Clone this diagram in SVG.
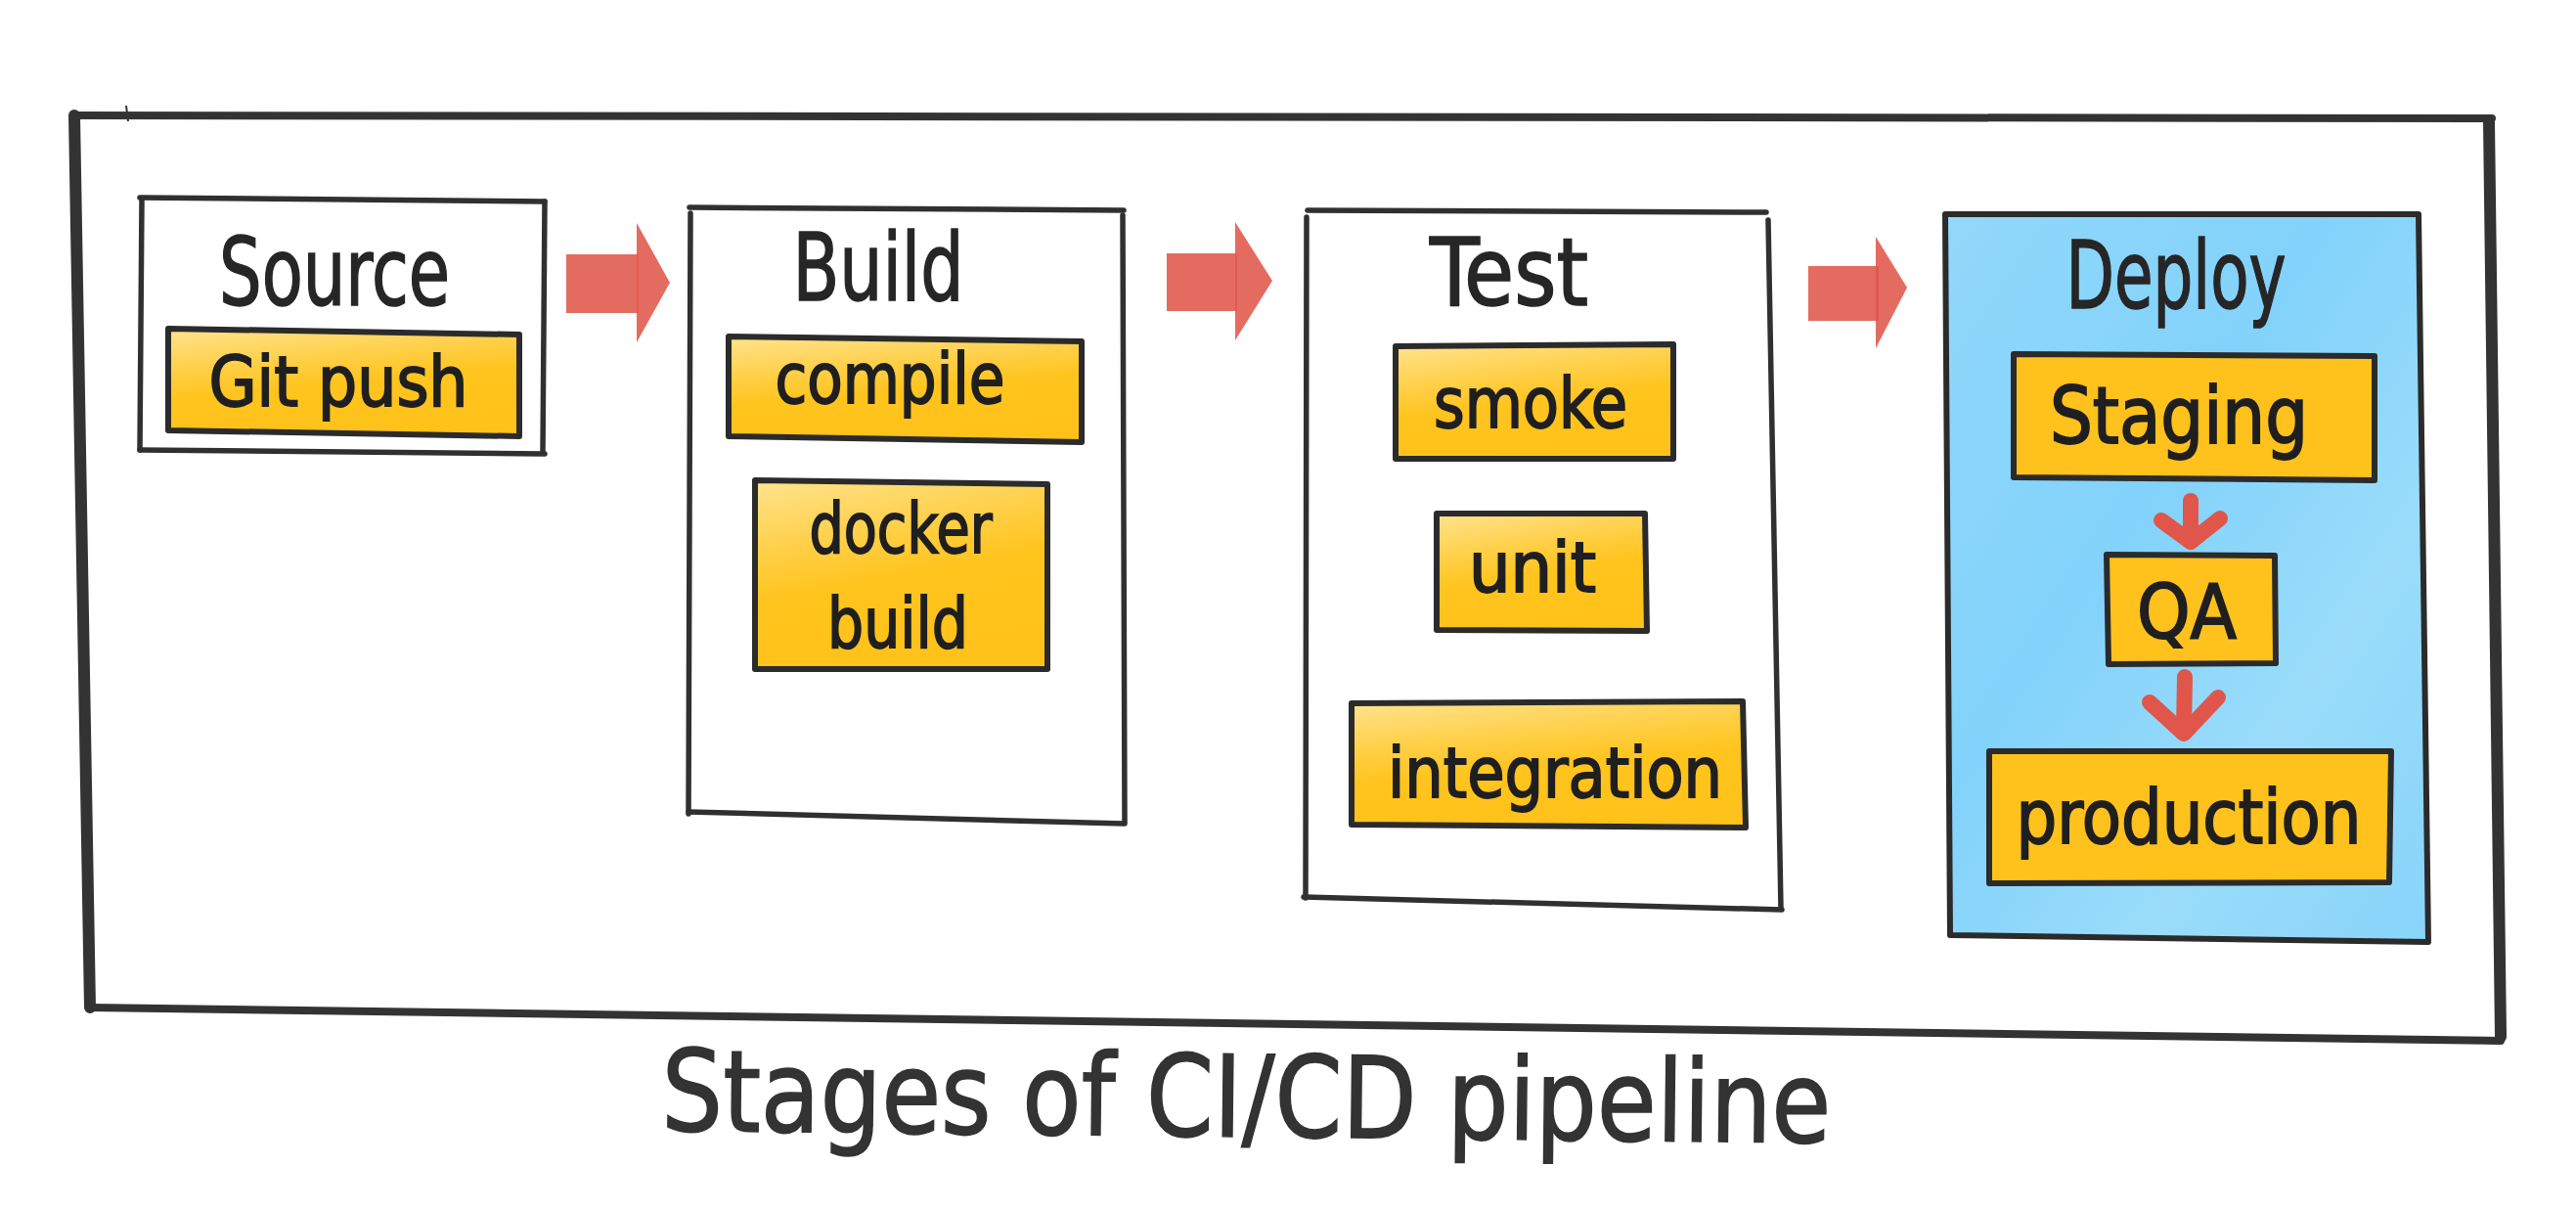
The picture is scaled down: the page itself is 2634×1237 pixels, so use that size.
<svg xmlns="http://www.w3.org/2000/svg" width="2634" height="1237" viewBox="0 0 2634 1237">
  <defs>
    <linearGradient id="ywash" x1="0" y1="0" x2="0.3" y2="1">
      <stop offset="0" stop-color="#FFE38F"/>
      <stop offset="0.35" stop-color="#FFD04A"/>
      <stop offset="0.6" stop-color="#FFC41E"/>
      <stop offset="1" stop-color="#FFC21A"/>
    </linearGradient>
    <linearGradient id="bwash" x1="0" y1="0" x2="1" y2="1">
      <stop offset="0" stop-color="#92D8FA"/>
      <stop offset="0.4" stop-color="#82D2FB"/>
      <stop offset="0.7" stop-color="#9ADCFA"/>
      <stop offset="1" stop-color="#88D4FA"/>
    </linearGradient>
    <style>
      .ln { fill: none; stroke: #303030; stroke-width: 5.5; stroke-linecap: round; }
      .frame { fill: none; stroke: #333333; stroke-width: 8; stroke-linecap: round; }
      .solid { fill: #FFC21C; stroke: #2b2b2b; stroke-width: 6; stroke-linejoin: round; }
      .wash { fill: url(#ywash); stroke: #2b2b2b; stroke-width: 6; stroke-linejoin: round; }
      .stage { font-family: "Liberation Sans Narrow", "DejaVu Sans Condensed", "Liberation Sans", sans-serif; font-size: 96px; fill: #262626; stroke: #262626; stroke-width: 1.5; text-anchor: middle; }
      .item { font-family: "Liberation Sans Narrow", "DejaVu Sans Condensed", "Liberation Sans", sans-serif; font-size: 72px; fill: #1f1f1f; stroke: #1f1f1f; stroke-width: 1.8; text-anchor: middle; }
      .title { font-family: "Liberation Sans Narrow", "DejaVu Sans Condensed", "Liberation Sans", sans-serif; font-size: 116px; fill: #333333; stroke: #333333; stroke-width: 1.5; text-anchor: middle; }
      .bigarrow { fill: #E0564A; opacity: 0.88; }
      .smallarrow { fill: none; stroke: #E0564A; stroke-width: 16; stroke-linecap: round; stroke-linejoin: round; }
    </style>
  </defs>
  <rect width="2634" height="1237" fill="#ffffff"/>

  <g id="frame">
    <path class="frame" d="M76 118 L2548 121"/>
    <path class="frame" style="stroke-width:12" d="M76 118 L92 1030"/>
    <path class="frame" d="M92 1030 L2557 1064"/>
    <path class="frame" style="stroke-width:12" d="M2545 124 L2557 1060"/>
    <path d="M129 108 L131 124" stroke="#333" stroke-width="2" fill="none"/>
  </g>

  <g id="stage-source">
    <path class="ln" d="M143 202 L557 206"/>
    <path class="ln" d="M557 206 L555 463"/>
    <path class="ln" d="M143 460 L557 464"/>
    <path class="ln" d="M145 205 L143 460"/>
    <text class="stage" x="342" y="312" textLength="236" lengthAdjust="spacingAndGlyphs">Source</text>
  </g>
  <g id="item-git-push">
    <polygon class="wash" points="172,336 531,342 531,446 172,440"/>
    <text class="item" x="346" y="415" textLength="265" lengthAdjust="spacingAndGlyphs">Git push</text>
  </g>

  <g id="stage-build">
    <path class="ln" d="M705 212 L1149 215"/>
    <path class="ln" d="M706 218 L704 832"/>
    <path class="ln" d="M1148 220 L1150 840"/>
    <path class="ln" d="M704 830 L1150 842"/>
    <text class="stage" x="898" y="307" textLength="175" lengthAdjust="spacingAndGlyphs">Build</text>
  </g>
  <g id="item-compile">
    <polygon class="wash" points="745,344 1106,349 1106,452 745,446"/>
    <text class="item" x="910" y="412" textLength="235" lengthAdjust="spacingAndGlyphs">compile</text>
  </g>
  <g id="item-docker-build">
    <polygon class="wash" points="772,491 1071,495 1071,684 772,684"/>
    <text class="item" x="921" y="565" textLength="187" lengthAdjust="spacingAndGlyphs">docker</text>
    <text class="item" x="918" y="662" textLength="144" lengthAdjust="spacingAndGlyphs">build</text>
  </g>

  <g id="stage-test">
    <path class="ln" d="M1337 215 L1806 217"/>
    <path class="ln" d="M1336 222 L1335 918"/>
    <path class="ln" d="M1808 225 L1821 929"/>
    <path class="ln" d="M1333 917 L1822 930"/>
    <text class="stage" x="1543" y="312" textLength="162" lengthAdjust="spacingAndGlyphs">Test</text>
  </g>
  <g id="item-smoke">
    <polygon class="wash" points="1427,354 1711,352 1711,469 1427,469"/>
    <text class="item" x="1565" y="437" textLength="198" lengthAdjust="spacingAndGlyphs">smoke</text>
  </g>
  <g id="item-unit">
    <polygon class="wash" points="1469,525 1682,525 1684,645 1469,644"/>
    <text class="item" x="1567" y="605" textLength="130" lengthAdjust="spacingAndGlyphs">unit</text>
  </g>
  <g id="item-integration">
    <polygon class="wash" points="1382,719 1782,717 1785,846 1382,843"/>
    <text class="item" x="1590" y="815" textLength="342" lengthAdjust="spacingAndGlyphs">integration</text>
  </g>

  <g id="stage-deploy">
    <polygon points="1989,219 2473,219 2483,963 1994,956" fill="url(#bwash)" stroke="#2b2b2b" stroke-width="6" stroke-linejoin="round"/>
    <text class="stage" x="2225" y="315" textLength="225" lengthAdjust="spacingAndGlyphs">Deploy</text>
  </g>
  <g id="item-staging">
    <polygon class="solid" points="2059,362 2428,364 2428,491 2059,488"/>
    <text class="item" style="font-size:80px" x="2228" y="453" textLength="264" lengthAdjust="spacingAndGlyphs">Staging</text>
  </g>
  <g id="item-qa">
    <polygon class="solid" points="2154,567 2326,568 2327,678 2156,679"/>
    <text class="item" style="font-size:76px" x="2236" y="652" textLength="102" lengthAdjust="spacingAndGlyphs">QA</text>
  </g>
  <g id="item-production">
    <polygon class="solid" points="2034,768 2445,768 2443,902 2034,903"/>
    <text class="item" style="font-size:76px" x="2238" y="862" textLength="353" lengthAdjust="spacingAndGlyphs">production</text>
  </g>

  <g id="connectors">
    <g id="arrow-source-build">
      <rect class="bigarrow" x="579" y="260" width="74" height="60"/>
      <polygon class="bigarrow" points="651,228 685,289 651,350"/>
    </g>
    <g id="arrow-build-test">
      <rect class="bigarrow" x="1193" y="259" width="72" height="59"/>
      <polygon class="bigarrow" points="1263,227 1301,287 1263,348"/>
    </g>
    <g id="arrow-test-deploy">
      <rect class="bigarrow" x="1849" y="272" width="72" height="56"/>
      <polygon class="bigarrow" points="1918,242 1950,294 1918,356"/>
    </g>
    <g id="arrow-staging-qa">
      <path class="smallarrow" d="M2240 512 L2240 550"/>
      <path class="smallarrow" d="M2210 532 L2240 554 L2270 530"/>
    </g>
    <g id="arrow-qa-production">
      <path class="smallarrow" d="M2234 692 L2233 746"/>
      <path class="smallarrow" d="M2198 718 L2233 750 L2268 713"/>
    </g>
  </g>

  <g id="caption">
    <text class="title" x="1274" y="1162" textLength="1196" lengthAdjust="spacingAndGlyphs" transform="rotate(0.6 1274 1162)">Stages of CI/CD pipeline</text>
  </g>
</svg>
